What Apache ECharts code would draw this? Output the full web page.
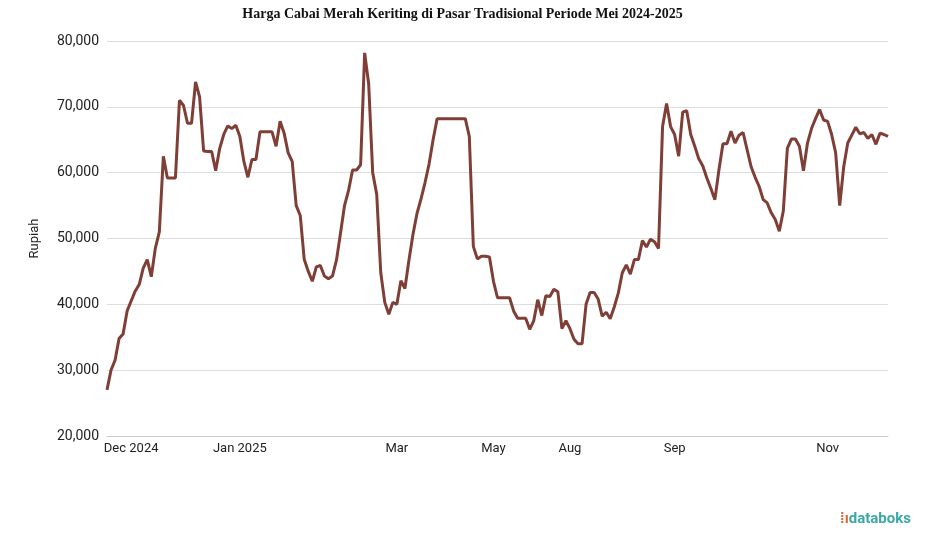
<!DOCTYPE html>
<html>
<head>
<meta charset="utf-8">
<script src="https://cdn.jsdelivr.net/npm/echarts@6/dist/echarts.min.js"></script>
<style>
  body { margin: 0; background: #fff; }
  #chart { width: 925px; height: 547px; }
  #logo { position: absolute; right: 14px; bottom: 20px; font: bold 15px Roboto, sans-serif; color: #3aa9a5; }
  #logo span { color: #e8643c; }
</style>
</head>
<body>
<div id="chart"></div>
<div id="logo"><span>⁞ı</span>databoks</div>
<script>
// harga harian (rupiah)
var prices = [
  27000, 30000, 31500, 34800, 35500, 39000, 40500, 42000, 43000, 45500,
  46800, 44200, 48500, 51000, 62500, 59200, 59200, 59200, 71000, 70200,
  67500, 67500, 73800, 71500, 63300, 63200, 63200, 60300, 63700, 65800,
  67100, 66700, 67200, 65500, 61700, 59300, 62000, 62000, 66200, 66200,
  66200, 66200, 64000, 67800, 66000, 63000, 61700, 55000, 53500, 46800,
  45000, 43500, 45700, 45900, 44300, 43900, 44300, 46700, 50800, 55000,
  57300, 60400, 60400, 61200, 78200, 73500, 60000, 56700, 44800, 40300,
  38500, 40300, 40000, 43600, 42400, 46700, 50600, 53800, 56000, 58500,
  61300, 65000, 68200, 68200, 68200, 68200, 68200, 68200, 68200, 68200,
  65500, 48800, 46900, 47300, 47300, 47200, 43500, 41000, 41000, 41000,
  41000, 39000, 37900, 37900, 37900, 36200, 37500, 40700, 38300, 41300,
  41200, 42300, 41900, 36300, 37500, 36300, 34700, 34000, 34000, 40000,
  41800, 41800, 40800, 38200, 38800, 37800, 39600, 41700, 44800, 46000,
  44600, 46800, 46800, 49700, 48700, 49900, 49500, 48500, 67000, 70500,
  67000, 65800, 62500, 69200, 69400, 65800, 64000, 62100, 61000, 59200,
  57600, 55900, 60400, 64400, 64400, 66300, 64500, 65700, 66100, 63500,
  60900, 59300, 57900, 55900, 55400, 53900, 52900, 51100, 54200, 63700,
  65100, 65100, 64000, 60300, 64500, 66700, 68200, 69600, 68000, 67800,
  65800, 63000, 55000, 60900, 64500, 65700, 66900, 65900, 66100, 65200,
  65800, 64300, 66000, 65800, 65500
];
var tickLabels = ['Dec 2024', 'Jan 2025', 'Mar', 'May', 'Aug', 'Sep', 'Nov'];
var tickIndex = [6, 33, 72, 96, 115, 141, 179];

var categories = [];
for (var i = 0; i < prices.length; i++) {
  var k = tickIndex.indexOf(i);
  categories.push(k > -1 ? tickLabels[k] : '');
}

var chart = echarts.init(document.getElementById('chart'));
chart.setOption({
  animation: false,
  title: {
    text: 'Harga Cabai Merah Keriting di Pasar Tradisional Periode Mei 2024-2025',
    left: 'center', top: 2,
    textStyle: { fontFamily: 'Liberation Serif', fontWeight: 'bold', fontSize: 14, color: '#111' }
  },
  grid: { left: 107, right: 37, top: 41, bottom: 111 },
  xAxis: {
    type: 'category',
    data: categories,
    boundaryGap: false,
    axisTick: { show: false },
    axisLine: { lineStyle: { color: '#ccc' } },
    axisLabel: { interval: 0, color: '#222', fontFamily: 'Roboto', fontSize: 13, margin: 6 }
  },
  yAxis: {
    type: 'value',
    min: 20000, max: 80000, interval: 10000,
    name: 'Rupiah', nameLocation: 'middle', nameGap: 66,
    nameTextStyle: { color: '#222', fontFamily: 'Roboto', fontSize: 13 },
    axisLabel: {
      color: '#222', fontFamily: 'Roboto', fontSize: 14,
      formatter: function (v) { return v.toLocaleString('en-US'); }
    },
    splitLine: { lineStyle: { color: '#ddd' } }
  },
  series: [{
    type: 'line',
    data: prices,
    symbol: 'none',
    lineStyle: { color: '#7f3f36', width: 3 }
  }]
});
</script>
</body>
</html>
